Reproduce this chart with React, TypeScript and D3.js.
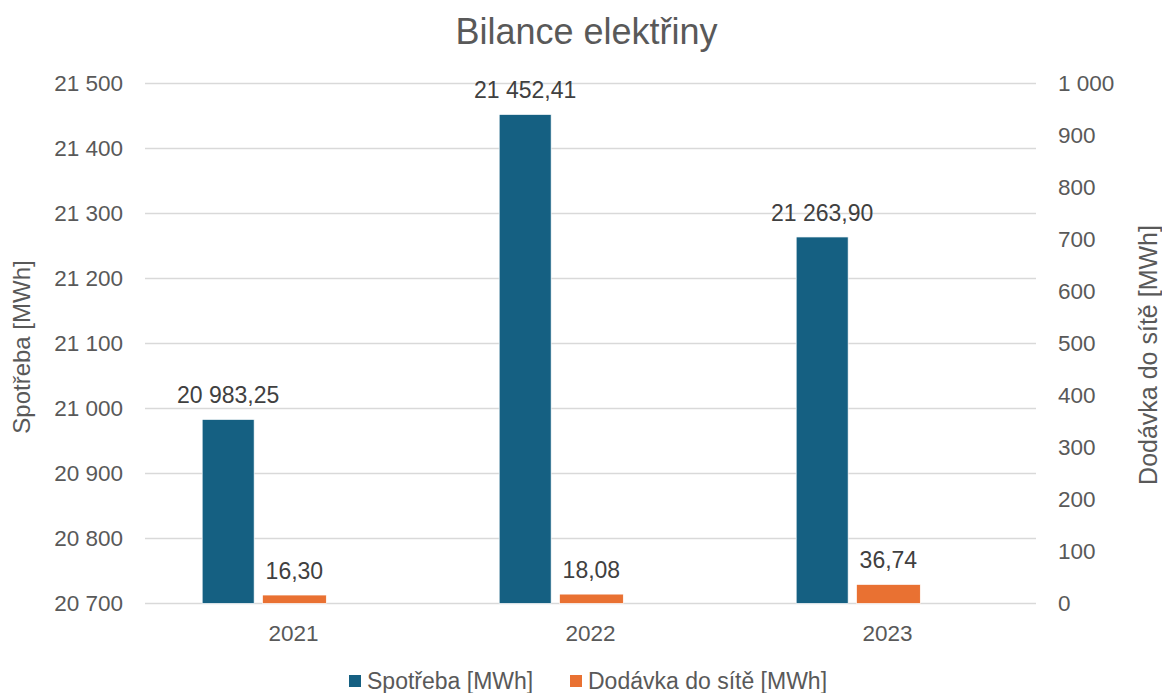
import * as d3 from 'd3';

import React, { useEffect, useRef } from 'react';

const years: string[] = ['2021', '2022', '2023'];
const consumption: number[] = [20983.25, 21452.41, 21263.9];
const gridExport: number[] = [16.3, 18.08, 36.74];
const leftDomain: [number, number] = [20700, 21500];
const rightDomain: [number, number] = [0, 1000];

const seriesNames = ['Spotřeba [MWh]', 'Dodávka do sítě [MWh]'];
const colors = ['#156082', '#E97132'];

const WIDTH = 1162;
const HEIGHT = 693;
const FONT = "'Liberation Sans', Arial, sans-serif";

const locale = d3.formatLocale({
  decimal: ',',
  thousands: '\u00a0',
  grouping: [3],
  currency: ['', ' Kč'],
});
const fmtTick = locale.format(',.0f');
const fmtValue = locale.format(',.2f');

export default function App() {
  const ref = useRef<SVGSVGElement>(null);

  useEffect(() => {
    const svg = d3.select(ref.current);
    svg.selectAll('*').remove();

    const plot = { left: 145, right: 1036, top: 83.5, bottom: 603.5 };

    const x = d3.scaleBand().domain(years).range([plot.left, plot.right]);
    const yLeft = d3.scaleLinear().domain(leftDomain).range([plot.bottom, plot.top]);
    const yRight = d3.scaleLinear().domain(rightDomain).range([plot.bottom, plot.top]);

    const bw = x.bandwidth();
    const blueW = bw * 0.175;
    const blueOffset = -bw * 0.22;
    const orangeW = bw * 0.215;
    const orangeOffset = bw * 0.003;

    const center = (d: string) => (x(d) ?? 0) + bw / 2;

    // gridlines
    svg
      .append('g')
      .selectAll('line')
      .data(yLeft.ticks(8))
      .join('line')
      .attr('x1', plot.left)
      .attr('x2', plot.right)
      .attr('y1', (d) => yLeft(d))
      .attr('y2', (d) => yLeft(d))
      .attr('stroke', '#d9d9d9')
      .attr('stroke-width', 1.5);

    // left ticks
    svg
      .append('g')
      .selectAll('text')
      .data(yLeft.ticks(8))
      .join('text')
      .attr('x', 123)
      .attr('y', (d) => yLeft(d) + 7)
      .attr('text-anchor', 'end')
      .attr('fill', '#595959')
      .attr('font-size', 22.5)
      .attr('font-family', FONT)
      .text((d) => fmtTick(d));

    // right ticks
    svg
      .append('g')
      .selectAll('text')
      .data(yRight.ticks(10))
      .join('text')
      .attr('x', 1058)
      .attr('y', (d) => yRight(d) + 7)
      .attr('text-anchor', 'start')
      .attr('fill', '#595959')
      .attr('font-size', 22.5)
      .attr('font-family', FONT)
      .text((d) => fmtTick(d));

    // category labels
    svg
      .append('g')
      .selectAll('text')
      .data(years)
      .join('text')
      .attr('x', (d) => center(d))
      .attr('y', 641)
      .attr('text-anchor', 'middle')
      .attr('fill', '#595959')
      .attr('font-size', 22.5)
      .attr('font-family', FONT)
      .text((d) => d);

    // primary bars
    svg
      .append('g')
      .selectAll('rect')
      .data(years)
      .join('rect')
      .attr('x', (d) => center(d) + blueOffset - blueW / 2)
      .attr('y', (d, i) => yLeft(consumption[i]))
      .attr('width', blueW)
      .attr('height', (d, i) => yLeft(leftDomain[0]) - yLeft(consumption[i]))
      .attr('fill', colors[0])
      .attr('stroke', '#ffffff')
      .attr('stroke-width', 0.7);

    // secondary bars
    svg
      .append('g')
      .selectAll('rect')
      .data(years)
      .join('rect')
      .attr('x', (d) => center(d) + orangeOffset - orangeW / 2)
      .attr('y', (d, i) => yRight(gridExport[i]))
      .attr('width', orangeW)
      .attr('height', (d, i) => yRight(0) - yRight(gridExport[i]))
      .attr('fill', colors[1])
      .attr('stroke', '#ffffff')
      .attr('stroke-width', 0.7);

    // data labels
    svg
      .append('g')
      .selectAll('text')
      .data(years)
      .join('text')
      .attr('x', (d) => center(d) + blueOffset)
      .attr('y', (d, i) => yLeft(consumption[i]) - 16)
      .attr('text-anchor', 'middle')
      .attr('fill', '#404040')
      .attr('font-size', 23)
      .attr('font-family', FONT)
      .text((d, i) => fmtValue(consumption[i]));

    svg
      .append('g')
      .selectAll('text')
      .data(years)
      .join('text')
      .attr('x', (d) => center(d) + orangeOffset)
      .attr('y', (d, i) => yRight(gridExport[i]) - 16)
      .attr('text-anchor', 'middle')
      .attr('fill', '#404040')
      .attr('font-size', 23)
      .attr('font-family', FONT)
      .text((d, i) => fmtValue(gridExport[i]));

    // title
    svg
      .append('text')
      .attr('x', 586.5)
      .attr('y', 43.5)
      .attr('text-anchor', 'middle')
      .attr('fill', '#595959')
      .attr('font-size', 36)
      .attr('font-family', FONT)
      .text('Bilance elektřiny');

    // axis titles
    svg
      .append('text')
      .attr('transform', 'translate(30, 347) rotate(-90)')
      .attr('text-anchor', 'middle')
      .attr('fill', '#595959')
      .attr('font-size', 24)
      .attr('font-family', FONT)
      .text(seriesNames[0]);

    svg
      .append('text')
      .attr('transform', 'translate(1157, 355) rotate(-90)')
      .attr('text-anchor', 'middle')
      .attr('fill', '#595959')
      .attr('font-size', 25)
      .attr('font-family', FONT)
      .text(seriesNames[1]);

    // legend
    const legendX = [349, 570];
    const legend = svg
      .append('g')
      .selectAll('g')
      .data(seriesNames)
      .join('g')
      .attr('transform', (d, i) => `translate(${legendX[i]}, 0)`);

    legend
      .append('rect')
      .attr('x', 0)
      .attr('y', 675)
      .attr('width', 12)
      .attr('height', 12)
      .attr('fill', (d, i) => colors[i]);

    legend
      .append('text')
      .attr('x', 18)
      .attr('y', 689)
      .attr('fill', '#595959')
      .attr('font-size', 23)
      .attr('font-family', FONT)
      .text((d) => d);
  }, []);

  return (
    <svg
      ref={ref}
      width={WIDTH}
      height={HEIGHT}
      style={{ position: 'absolute', left: 0, top: 0, background: '#ffffff' }}
    ></svg>
  );
}
